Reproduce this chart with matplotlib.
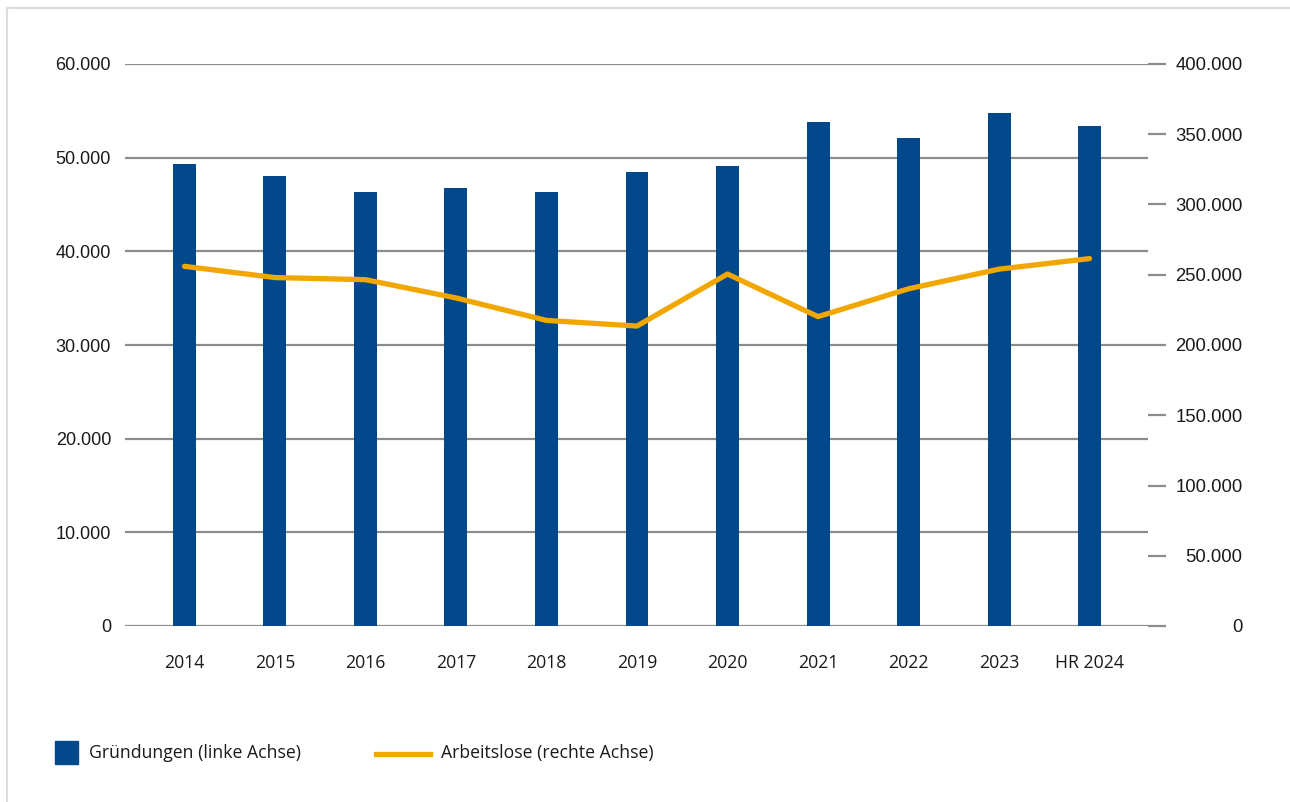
import matplotlib

matplotlib.use("Agg")
import matplotlib.pyplot as plt
from matplotlib.lines import Line2D
from matplotlib.patches import Rectangle
from matplotlib.ticker import FuncFormatter

# Gründungen vs. Arbeitslose, 2014 bis Halbjahr 2024
years = ["2014", "2015", "2016", "2017", "2018", "2019", "2020",
         "2021", "2022", "2023", "HR 2024"]
gruendungen = [49300, 48000, 46300, 46750, 46300, 48450, 49100,
               53800, 52100, 54750, 53400]
arbeitslose = [256000, 248000, 246500, 233500, 217500, 213500, 250500,
               220200, 240000, 254000, 261500]
legend_labels = ["Gründungen (linke Achse)", "Arbeitslose (rechte Achse)"]

BLUE = "#03488a"
ORANGE = "#f2a600"
GRID = "#8c8c8c"
TEXT = "#1a1a1a"
W, H = 1290, 802


def de_thousands(v, _pos=None):
    return f"{int(round(v)):,}".replace(",", ".")


fig = plt.figure(figsize=(W / 100, H / 100), dpi=100)
ax = fig.add_axes([125 / W, 1 - 626 / H, (1148 - 125) / W, (626 - 64) / H])
ax2 = ax.twinx()

xs = list(range(len(years)))
ax.bar(xs, gruendungen, width=0.254, color=BLUE, zorder=3)
ax2.plot(xs, arbeitslose, color=ORANGE, lw=3.8, solid_capstyle="round",
         solid_joinstyle="round", zorder=4)

ax.set_xlim(-0.657, 10.646)
ax.set_ylim(0, 60000)
ax2.set_ylim(0, 400000)
ax.set_yticks(range(0, 60001, 10000))
ax2.set_yticks(range(0, 400001, 50000))
ax.yaxis.set_major_formatter(FuncFormatter(de_thousands))
ax2.yaxis.set_major_formatter(FuncFormatter(de_thousands))

ax.grid(axis="y", color=GRID, lw=1.6, zorder=1)
ax.set_axisbelow(True)
for a in (ax, ax2):
    for s in a.spines.values():
        s.set_visible(False)

ax.set_xticks(xs)
ax.set_xticklabels(years, fontfamily="Open Sans", fontsize=12.7, color=TEXT)
ax.tick_params(axis="x", length=0, pad=20)
ax.tick_params(axis="y", length=0, pad=10, labelsize=13, labelcolor=TEXT)
for t in ax.get_yticklabels():
    t.set_fontfamily("Liberation Sans")

ax2.tick_params(axis="y", direction="out", length=13, width=1.6, color=GRID,
                pad=55, labelsize=13.3, labelcolor=TEXT)
for t in ax2.get_yticklabels():
    t.set_fontfamily("Liberation Sans")
    t.set_horizontalalignment("right")

# legend drawn in figure pixels
fig.add_artist(Rectangle((55 / W, 1 - 764 / H), 23 / W, 23 / H,
                         transform=fig.transFigure, color=BLUE))
fig.text(89 / W, 1 - 753 / H, legend_labels[0], va="center", ha="left",
         fontfamily="Open Sans", fontsize=12.7, color=TEXT)
fig.add_artist(Line2D([376 / W, 430 / W], [1 - 754 / H, 1 - 754 / H],
                      transform=fig.transFigure, color=ORANGE, lw=3.8))
fig.text(441 / W, 1 - 753 / H, legend_labels[1], va="center", ha="left",
         fontfamily="Open Sans", fontsize=12.7, color=TEXT)

# faint frame on top and left edge
fig.add_artist(Line2D([7 / W, 1], [1 - 8 / H, 1 - 8 / H],
                      transform=fig.transFigure, color="#dddddd", lw=1.5))
fig.add_artist(Line2D([7 / W, 7 / W], [0, 1 - 8 / H],
                      transform=fig.transFigure, color="#dddddd", lw=1.5))

fig.savefig("out.png", dpi=100)
plt.close(fig)
